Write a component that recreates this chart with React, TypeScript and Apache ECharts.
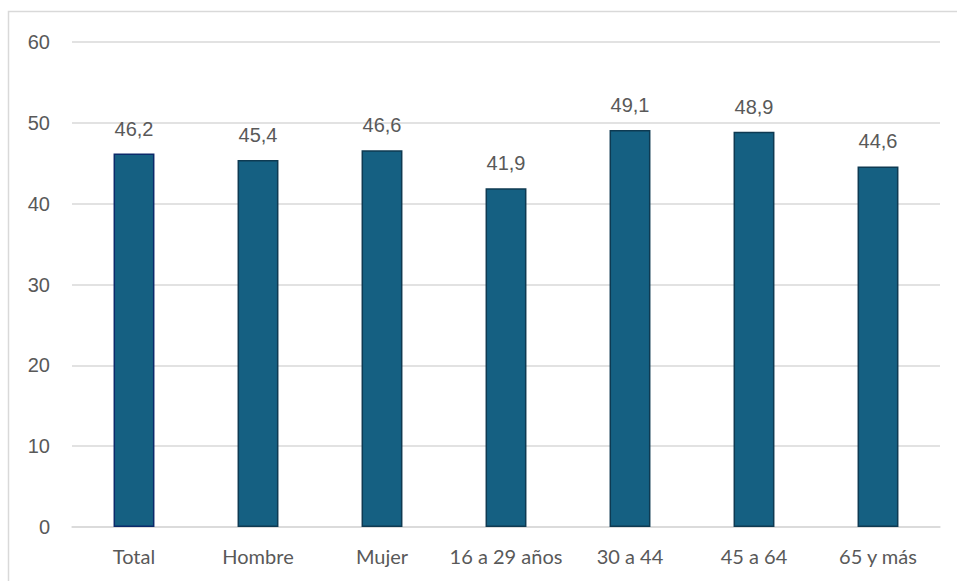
import React, { useEffect, useRef } from "react";
import * as echarts from "echarts";

const categories = ["Total", "Hombre", "Mujer", "16 a 29 años", "30 a 44", "45 a 64", "65 y más"];
const values = [46.2, 45.4, 46.6, 41.9, 49.1, 48.9, 44.6];
const yTicks = { min: 0, max: 60, interval: 10 };

export default function App() {
  const ref = useRef<HTMLDivElement>(null);
  useEffect(() => {
    if (!ref.current) return;
    const chart = echarts.init(ref.current, null, { renderer: "svg" });
    chart.setOption({
      animation: false,
      backgroundColor: "#ffffff",
      graphic: [
        {
          type: "rect",
          shape: { x: 8.5, y: 11.5, width: 1200, height: 1200 },
          style: { fill: "none", stroke: "#d9d9d9", lineWidth: 1.5 },
          silent: true,
        },
      ],
      grid: { left: 72, right: 17, top: 42, bottom: 54 },
      xAxis: {
        type: "category",
        data: categories,
        axisLine: { show: true, lineStyle: { color: "#d9d9d9", width: 1.5 } },
        axisTick: { show: false },
        axisLabel: {
          color: "#595959",
          fontSize: 20,
          fontFamily: "Lato",
          margin: 19,
          interval: 0,
        },
      },
      yAxis: {
        type: "value",
        min: yTicks.min,
        max: yTicks.max,
        interval: yTicks.interval,
        axisLine: { show: false },
        axisTick: { show: false },
        splitLine: { lineStyle: { color: "#d9d9d9", width: 1.5 } },
        axisLabel: {
          color: "#595959",
          fontSize: 20,
          fontFamily: "Liberation Sans",
          margin: 22,
        },
      },
      series: [
        {
          type: "bar",
          data: values.map((v, i) => ({
            value: v,
            itemStyle: { borderColor: i === 0 ? "#0b2a6a" : "#0e3a52" },
          })),
          barWidth: "33%",
          itemStyle: { color: "#156082", borderWidth: 1.5 },
          label: {
            show: true,
            position: "top",
            distance: 15,
            color: "#595959",
            fontSize: 20,
            fontFamily: "Liberation Sans",
            formatter: (p: any) => Number(p.value).toFixed(1).replace(".", ","),
          },
        },
      ],
    });
    return () => chart.dispose();
  }, []);
  return (
    <div
      ref={ref}
      style={{ position: "fixed", left: 0, top: 0, width: 957, height: 581 }}
    />
  );
}
